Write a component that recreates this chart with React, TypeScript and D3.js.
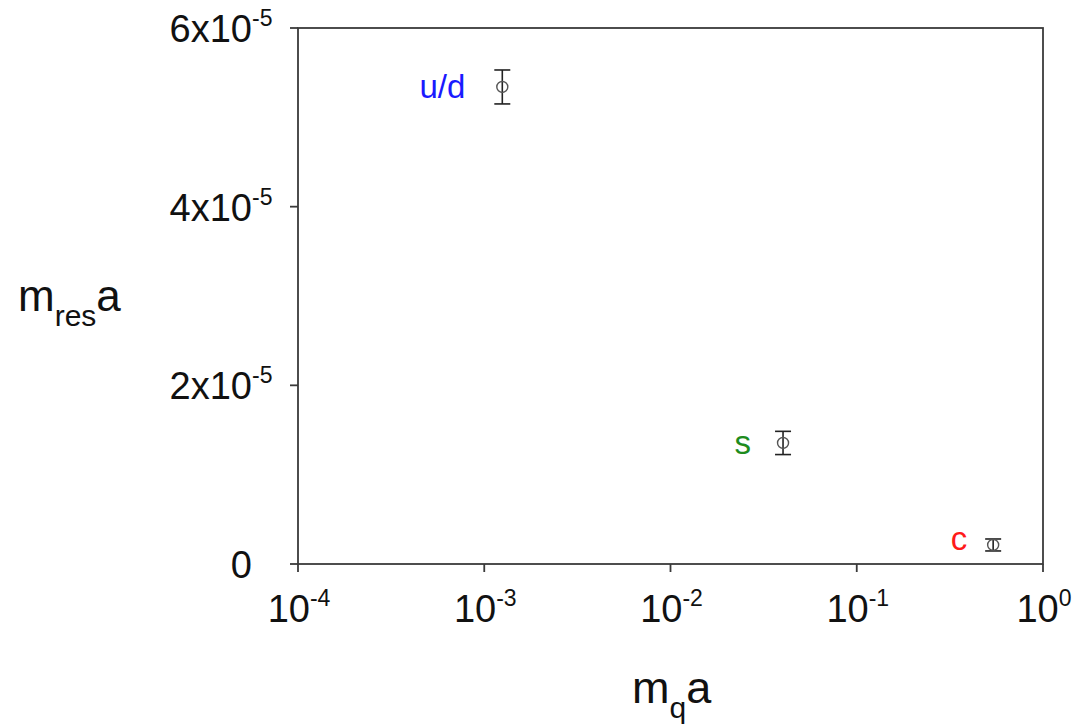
import React from "react";
import * as d3 from "d3";

// Residual mass vs. bare quark mass (lattice units)
const flavours = ["u/d", "s", "c"];
const quarkMass = [0.00125, 0.0402, 0.54];
const residualMass = [5.34e-5, 1.355e-5, 0.213e-5];
const residualErr = [0.19e-5, 0.13e-5, 0.067e-5];
const flavourColors = ["#1a1aff", "#1e8c1e", "#ff1a1a"];

const xTickExps = [-4, -3, -2, -1, 0];
const yTickVals = [0, 2e-5, 4e-5, 6e-5];
const yTickMant = ["0", "2x10", "4x10", "6x10"];
const yTickExps = ["", "-5", "-5", "-5"];

const W = 1074;
const H = 726;
const M = { left: 298, right: 1043, top: 28, bottom: 564 };

// label placement next to each marker
const labelDx = [-37, -32, -26];
const labelDy = [11, 11, 5];

export default function App() {
  const x = d3.scaleLog().domain([1e-4, 1]).range([M.left, M.right]);
  const y = d3.scaleLinear().domain([0, 6e-5]).range([M.bottom, M.top]);
  const font = "'Liberation Sans', Arial, sans-serif";
  const axisColor = "#3a3a3a";

  return (
    <svg
      width={W}
      height={H}
      style={{ position: "absolute", left: 0, top: 0, background: "#fff" }}
      fontFamily={font}
    >
      {/* frame */}
      <rect
        x={M.left}
        y={M.top}
        width={M.right - M.left}
        height={M.bottom - M.top}
        fill="none"
        stroke={axisColor}
        strokeWidth={1.8}
      />

      {/* y axis ticks and labels */}
      {yTickVals.map((v, i) => (
        <g key={"y" + i}>
          <line x1={M.left - 8} x2={M.left} y1={y(v)} y2={y(v)} stroke={axisColor} strokeWidth={1.8} />
          <text x={M.left - 46} y={y(v) + 14} textAnchor="end" fontSize={38} fill="#111">
            {yTickMant[i]}
          </text>
          {yTickExps[i] && (
            <text x={M.left - 46} y={y(v) - 2} fontSize={23} fill="#111">
              {yTickExps[i]}
            </text>
          )}
        </g>
      ))}

      {/* x axis ticks and labels */}
      {xTickExps.map((e) => {
        const px = x(Math.pow(10, e));
        return (
          <g key={"x" + e}>
            <line x1={px} x2={px} y1={M.bottom} y2={M.bottom + 8} stroke={axisColor} strokeWidth={1.8} />
            <text x={px + 1} y={622} textAnchor="middle" fontSize={38} fill="#111">
              10
              <tspan dy={-16} fontSize={23}>
                {e}
              </tspan>
            </text>
          </g>
        );
      })}

      {/* axis titles */}
      <text x={18} y={311} fontSize={44} fill="#111">
        m
        <tspan dy={15} fontSize={30}>
          res
        </tspan>
        <tspan dy={-15}>a</tspan>
      </text>
      <text x={632} y={703} fontSize={45} fill="#111">
        m
        <tspan dy={15} fontSize={30}>
          q
        </tspan>
        <tspan dy={-15}>a</tspan>
      </text>

      {/* data points with error bars */}
      {flavours.map((f, i) => {
        const px = x(quarkMass[i]);
        const py = y(residualMass[i]);
        const yTop = y(residualMass[i] + residualErr[i]);
        const yBot = y(residualMass[i] - residualErr[i]);
        return (
          <g key={f}>
            <line x1={px} x2={px} y1={yTop} y2={yBot} stroke="#222" strokeWidth={1.6} />
            <line x1={px - 8} x2={px + 8} y1={yTop} y2={yTop} stroke="#222" strokeWidth={1.6} />
            <line x1={px - 8} x2={px + 8} y1={yBot} y2={yBot} stroke="#222" strokeWidth={1.6} />
            <circle cx={px} cy={py} r={5.5} fill="none" stroke="#555" strokeWidth={1.4} />
            <text
              x={px + labelDx[i]}
              y={py + labelDy[i]}
              textAnchor="end"
              fontSize={33}
              fill={flavourColors[i]}
            >
              {f}
            </text>
          </g>
        );
      })}
    </svg>
  );
}
